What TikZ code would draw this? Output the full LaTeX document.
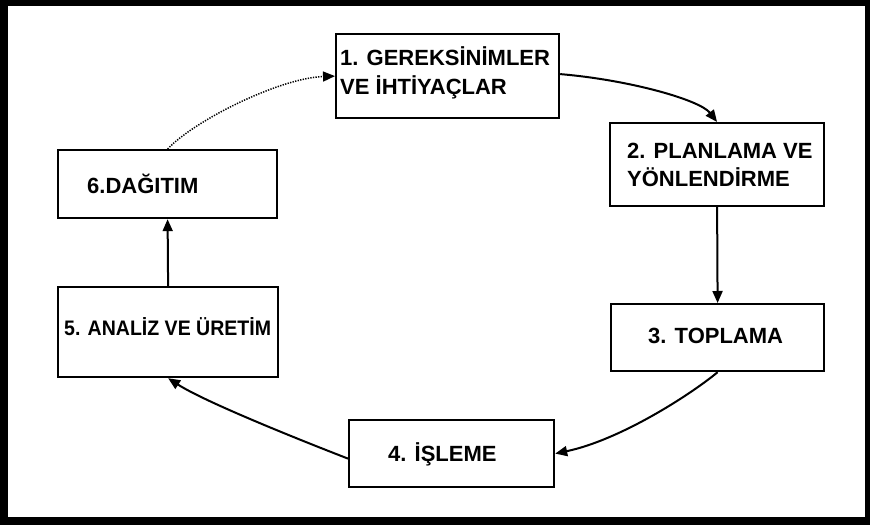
\documentclass[tikz,border=0pt]{standalone}
\usepackage{fontspec}
\setmainfont{Liberation Sans}
\usetikzlibrary{arrows.meta}
\begin{document}
\begin{tikzpicture}[x=1pt,y=-1pt,
  box/.style={draw=black, line width=2.2pt, rectangle, inner sep=0pt, anchor=north west},
  lbl/.style={anchor=base west, inner sep=0pt, font=\fontsize{22}{26}\selectfont\bfseries},
  conn/.style={line width=2pt, -{Triangle[length=12pt,width=10pt]}},
  dotconn/.style={line width=1.5pt, dash pattern=on 1.3pt off 1.3pt, -{Triangle[length=12pt,width=10pt]}},
]
\useasboundingbox (0,0) rectangle (870,525);
\fill[black] (0,0) rectangle (870,525);
\fill[white] (8,6) rectangle (865,517);

% boxes
\node[box, minimum width=223pt, minimum height=84pt] (b1) at (335,33) {};
\node[box, minimum width=214pt, minimum height=83pt] (b2) at (609,122) {};
\node[box, minimum width=213pt, minimum height=67pt] (b3) at (610,303) {};
\node[box, minimum width=205pt, minimum height=67pt] (b4) at (348,419) {};
\node[box, minimum width=220pt, minimum height=90pt] (b5) at (57,286) {};
\node[box, minimum width=219pt, minimum height=68pt] (b6) at (57,149) {};

% labels
\node[lbl] (t1a) at (340,65) {1. GEREKSİNİMLER};
\node[lbl] (t1b) at (340,94) {VE İHTİYAÇLAR};
\node[lbl] (t2a) at (627,158) {2. PLANLAMA VE};
\node[lbl] (t2b) at (627,186) {YÖNLENDİRME};
\node[lbl] (t3) at (648,343) {3. TOPLAMA};
\node[lbl] (t4) at (388,461) {4. İŞLEME};
\node[lbl] (t5) at (64,335) {\scalebox{0.93}[1]{\fontsize{21}{26}\selectfont 5. ANALİZ VE ÜRETİM}};
\node[lbl] (t6) at (87,193) {6.DAĞITIM};

% connectors
\draw[conn] ([yshift=2pt]b1.east) .. controls (630,80) and (700,100) .. (b2.north);
\draw[conn] (b2.south) -- (b3.north);
\draw[conn] (b3.south) .. controls (690,395) and (620,440) .. (b4.east);
\draw[conn] ([yshift=-5pt]b4.west) .. controls (300,440) and (205,402) .. (b5.south);
\draw[conn] (b5.north) -- (b6.south);
\draw[dotconn] (b6.north) .. controls (195,120) and (280,78) .. (b1.west);
\end{tikzpicture}
\end{document}
